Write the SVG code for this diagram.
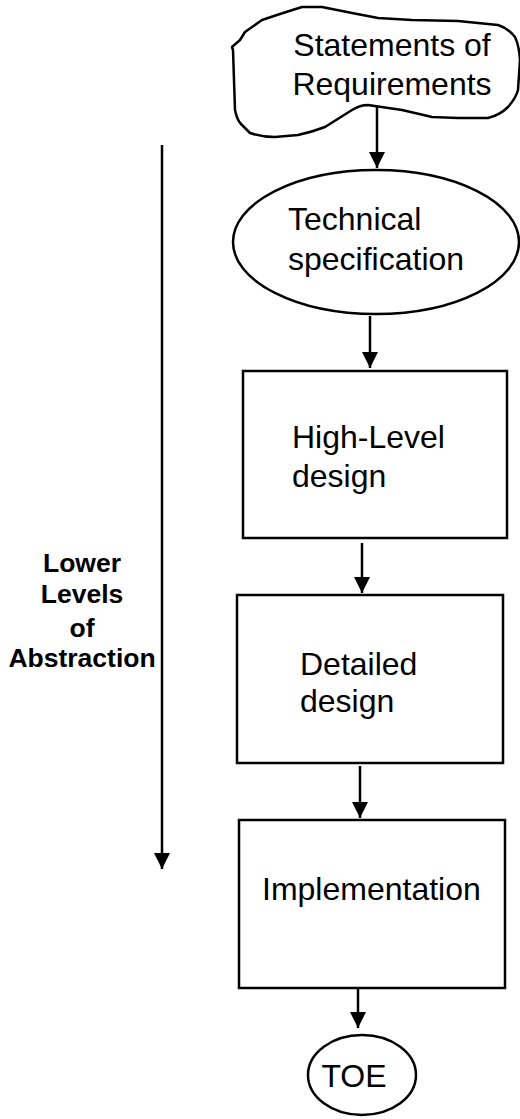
<svg xmlns="http://www.w3.org/2000/svg" width="520" height="1119" viewBox="0 0 520 1119">
<defs>
<style>
.shape{fill:#fff;stroke:#000;stroke-width:2.5}
.t{font-family:"Liberation Sans",Arial,sans-serif;font-size:32px;fill:#000}
.b{font-family:"Liberation Sans",Arial,sans-serif;font-size:26.5px;font-weight:bold;fill:#000;text-anchor:middle}
.c{stroke:#000;stroke-width:2.5;fill:none;marker-end:url(#ah)}
</style>
<marker id="ah" viewBox="0 0 16 16" refX="16" refY="8" markerWidth="16" markerHeight="16" markerUnits="userSpaceOnUse" orient="auto">
<path d="M0,0 L16,8 L0,16 Z" fill="#000"/>
</marker>
</defs>
<rect width="520" height="1119" fill="#fff"/>
<g id="connectors">
<line class="c" x1="377" y1="107" x2="377" y2="168"/>
<line class="c" x1="370" y1="316" x2="370" y2="368"/>
<line class="c" x1="362" y1="543" x2="362" y2="593"/>
<line class="c" x1="360" y1="766" x2="360" y2="818"/>
<line class="c" x1="358" y1="988" x2="358" y2="1028"/>
<line class="c" x1="162" y1="145" x2="162" y2="869"/>
</g>
<g id="requirements">
<path class="shape" d="M240,40 L232,47 L233,50 L234,80 L235,110 Q237,120 241,124 L250,133 Q262,137 275,137 L298,135 Q312,132 325,127 L352,110 Q360,105 368,105 L402,110 L432,117 L458,118 L488,118 Q500,115 508,107 Q516,98 518,90 L520,60 Q519,45 515,37 Q508,28 498,25 L458,21 L412,20 L378,18 L352,13 L322,7 L302,7 L283,13 L262,20 L245,32 Z" stroke-linejoin="round"/>
<text class="t" x="392" y="56" text-anchor="middle">Statements of</text>
<text class="t" x="392" y="95" text-anchor="middle">Requirements</text>
</g>
<g id="techspec">
<ellipse class="shape" cx="376" cy="242" rx="143" ry="72"/>
<text class="t" x="288" y="230">Technical</text>
<text class="t" x="288" y="270">specification</text>
</g>
<g id="highlevel">
<rect class="shape" x="243" y="371" width="264" height="167"/>
<text class="t" x="292" y="448">High-Level</text>
<text class="t" x="292" y="487">design</text>
</g>
<g id="detailed">
<rect class="shape" x="237" y="595" width="266" height="168"/>
<text class="t" x="300" y="675">Detailed</text>
<text class="t" x="300" y="712">design</text>
</g>
<g id="implementation">
<rect class="shape" x="239" y="820" width="266" height="168"/>
<text class="t" x="262" y="900">Implementation</text>
</g>
<g id="toe">
<ellipse class="shape" cx="362" cy="1075" rx="54" ry="40"/>
<text class="t" x="354" y="1087" text-anchor="middle">TOE</text>
</g>
<g id="axis-label">
<text class="b" x="82" y="572">Lower</text>
<text class="b" x="82" y="603">Levels</text>
<text class="b" x="82" y="637">of</text>
<text class="b" x="82" y="667">Abstraction</text>
</g>
</svg>
